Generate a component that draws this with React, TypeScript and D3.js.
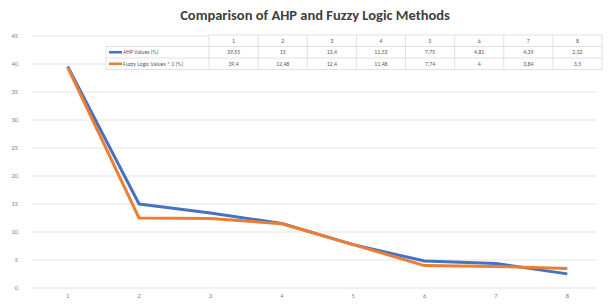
import React from "react";
import { scaleBand, scaleLinear, line } from "d3";

// Comparison of AHP and Fuzzy Logic methods (Excel-style line chart with data table)
const categories = ["1", "2", "3", "4", "5", "6", "7", "8"];
const ahpValues = [39.55, 15, 13.4, 11.53, 7.75, 4.81, 4.39, 2.52];
const fuzzyValues = [39.4, 12.48, 12.4, 11.48, 7.74, 4, 3.84, 3.5];
const ahpLabels = ["39,55", "15", "13,4", "11,53", "7,75", "4,81", "4,39", "2,52"];
const fuzzyLabels = ["39,4", "12,48", "12,4", "11,48", "7,74", "4", "3,84", "3,5"];
const yTicks = [0, 5, 10, 15, 20, 25, 30, 35, 40, 45];
const seriesNames = ["AHP Values (%)", "Fuzzy Logic Values * 1 (%)"];

export default function App() {
  const width = 608;
  const height = 304;
  const plot = { left: 32, right: 603, top: 36, bottom: 288 };
  const font = "Calibri, 'Liberation Sans', 'Open Sans', sans-serif";

  const x = scaleBand().domain(categories).range([plot.left, plot.right]);
  const y = scaleLinear().domain([0, 45]).range([plot.bottom, plot.top]);

  const lineGen = line<number>()
    .x((_, i) => (x(categories[i]) ?? 0) + x.bandwidth() / 2)
    .y((d) => y(d));

  // data table
  const table = { left: 106, nameWidth: 103, right: 602, top: 35, rowH: 11.5 };
  const colW = (table.right - table.left - table.nameWidth) / categories.length;
  const colX = (i: number) => table.left + table.nameWidth + i * colW;
  const rows = [
    { name: seriesNames[0], color: "#4472C4", labels: ahpLabels },
    { name: seriesNames[1], color: "#ED7D31", labels: fuzzyLabels },
  ];

  return (
    <svg
      width={width}
      height={height}
      style={{ position: "absolute", left: 0, top: 0, background: "#fff" }}
      fontFamily={font}
    >
      <text
        x={315}
        y={20}
        textAnchor="middle"
        fontSize={14.5}
        fontWeight="bold"
        fill="#404040"
      >
        Comparison of AHP and Fuzzy Logic Methods
      </text>

      {yTicks.map((t) => (
        <g key={t}>
          <line x1={plot.left} x2={596} y1={y(t)} y2={y(t)} stroke="#e2e2e2" strokeWidth={1} />
          <text x={18} y={y(t) + 2} textAnchor="end" fontSize={6.5} fill="#7f7f7f">
            {t}
          </text>
        </g>
      ))}

      {categories.map((c) => (
        <text
          key={c}
          x={(x(c) ?? 0) + x.bandwidth() / 2}
          y={298}
          textAnchor="middle"
          fontSize={6.5}
          fill="#7f7f7f"
        >
          {c}
        </text>
      ))}

      <path d={lineGen(ahpValues) ?? ""} fill="none" stroke="#4472C4" strokeWidth={3} strokeLinejoin="round" />
      <path d={lineGen(fuzzyValues) ?? ""} fill="none" stroke="#ED7D31" strokeWidth={3} strokeLinejoin="round" />

      <g>
        <rect
          x={table.left}
          y={table.top + table.rowH}
          width={table.right - table.left}
          height={table.rowH * 2}
          fill="#fff"
        />
        <rect
          x={table.left + table.nameWidth}
          y={table.top}
          width={table.right - table.left - table.nameWidth}
          height={table.rowH}
          fill="#fff"
        />
        {[0, 1, 2, 3].map((r) => (
          <line
            key={r}
            x1={r === 0 ? table.left + table.nameWidth : table.left}
            x2={table.right}
            y1={table.top + r * table.rowH}
            y2={table.top + r * table.rowH}
            stroke="#d9d9d9"
            strokeWidth={0.8}
          />
        ))}
        <line
          x1={table.left}
          x2={table.left}
          y1={table.top + table.rowH}
          y2={table.top + 3 * table.rowH}
          stroke="#d9d9d9"
          strokeWidth={0.8}
        />
        {categories.map((c, i) => (
          <g key={c}>
            <line
              x1={colX(i)}
              x2={colX(i)}
              y1={table.top}
              y2={table.top + 3 * table.rowH}
              stroke="#d9d9d9"
              strokeWidth={0.8}
            />
            <text
              x={colX(i) + colW / 2}
              y={table.top + table.rowH * 0.5 + 2}
              textAnchor="middle"
              fontSize={5.8}
              fill="#595959"
            >
              {c}
            </text>
          </g>
        ))}
        <line
          x1={table.right}
          x2={table.right}
          y1={table.top}
          y2={table.top + 3 * table.rowH}
          stroke="#d9d9d9"
          strokeWidth={0.8}
        />
        {rows.map((row, r) => {
          const cy = table.top + table.rowH * (r + 1.5);
          return (
            <g key={row.name}>
              <line
                x1={table.left + 3}
                x2={table.left + 16}
                y1={cy}
                y2={cy}
                stroke={row.color}
                strokeWidth={2.5}
              />
              <text x={table.left + 17} y={cy + 2} fontSize={5.8} fill="#595959">
                {row.name}
              </text>
              {row.labels.map((l, i) => (
                <text
                  key={i}
                  x={colX(i) + colW / 2}
                  y={cy + 2}
                  textAnchor="middle"
                  fontSize={5.8}
                  fill="#595959"
                >
                  {l}
                </text>
              ))}
            </g>
          );
        })}
      </g>
    </svg>
  );
}
